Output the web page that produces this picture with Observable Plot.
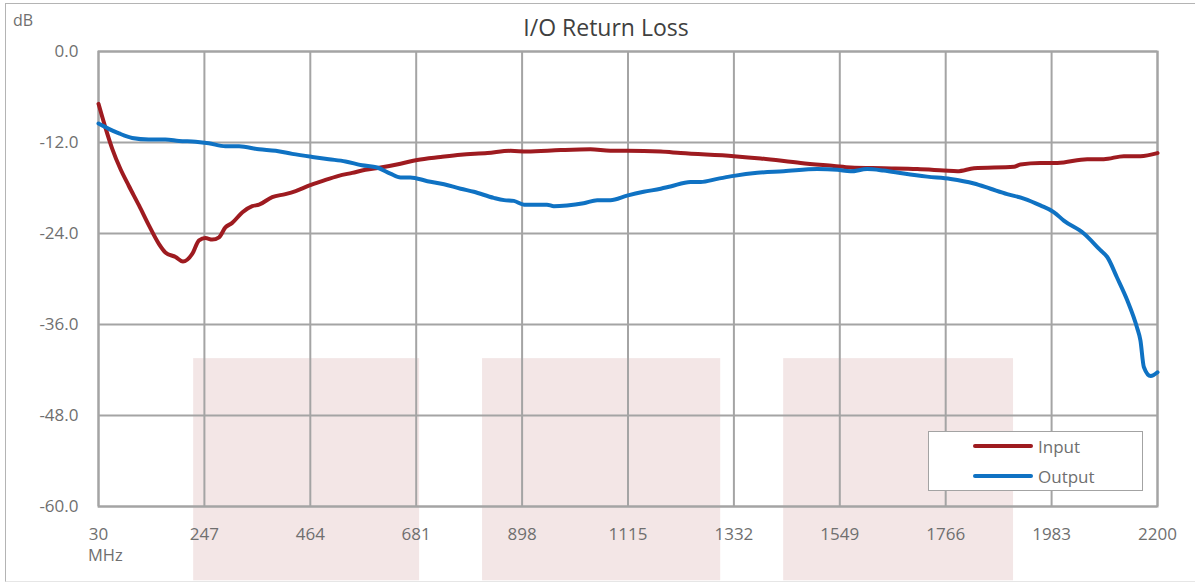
<!DOCTYPE html>
<html>
<head>
<meta charset="utf-8">
<script src="https://cdn.jsdelivr.net/npm/d3@7"></script>
<script src="https://cdn.jsdelivr.net/npm/@observablehq/plot@0.6"></script>
<style>
  html, body { margin: 0; padding: 0; background: #fff; }
  #wrap { position: relative; width: 1195px; height: 584px; overflow: hidden; font-family: "Open Sans", sans-serif; }
  #border { position: absolute; left: 5px; top: 3px; width: 1200px; height: 579px; border-left: 1px solid #b4b4b4; border-top: 1px solid #b4b4b4; border-bottom: 1px solid #e6e6e6; box-sizing: border-box; }
  #title { position: absolute; left: 0; width: 1212px; top: 11px; text-align: center; font-size: 23px; color: #404040; }
  #unitY { position: absolute; left: 13px; top: 10px; font-size: 16px; line-height: 20px; color: #6f6f6f; }
  #unitX { position: absolute; left: 88px; top: 549px; font-size: 16.5px; line-height: 12px; color: #6f6f6f; }
  #legend { position: absolute; left: 928px; top: 431px; width: 215px; height: 60px; box-sizing: border-box; border: 1.5px solid #a3a3a3; background: #fff; font-size: 17px; color: #6f6f6f; }
  .li { position: absolute; left: 44px; height: 20px; display: flex; align-items: center; }
  .sw { width: 60px; height: 4px; border-radius: 2px; margin-right: 5px; }
  svg { position: absolute; left: 0; top: 0; }
</style>
</head>
<body>
<div id="wrap">
  <div id="border"></div>
  <div id="chart"></div>
  <div id="title">I/O Return Loss</div>
  <div id="unitY">dB</div>
  <div id="unitX">MHz</div>
  <div id="legend"></div>
</div>
<script>
// ---- Data ----
const xTicks = [30, 247, 464, 681, 898, 1115, 1332, 1549, 1766, 1983, 2200];
const yTicks = [0, -12, -24, -36, -48, -60];
const seriesNames = ["Input", "Output"];
const seriesColors = ["#9e1b20", "#0f72c3"];

const inputMHz = [30,44,58,75,92,113,133,154,167,188,203,222,236,249,263,277,290,304,325,345,359,386,413,434,461,488,522,550,577,608,649,683,731,772,827,874,908,977,1038,1079,1113,1182,1223,1332,1387,1469,1537,1571,1639,1708,1762,1790,1824,1906,1919,1960,1995,2056,2090,2131,2165,2200];
const inputDB = [-6.9,-10.0,-12.8,-15.5,-17.7,-20.3,-22.9,-25.4,-26.5,-27.1,-27.7,-26.7,-24.9,-24.6,-24.8,-24.5,-23.2,-22.6,-21.2,-20.4,-20.2,-19.2,-18.8,-18.4,-17.7,-17.1,-16.4,-16.0,-15.6,-15.3,-14.8,-14.3,-13.9,-13.6,-13.4,-13.1,-13.2,-13.0,-12.9,-13.1,-13.1,-13.2,-13.4,-13.8,-14.1,-14.7,-15.1,-15.3,-15.4,-15.5,-15.7,-15.8,-15.4,-15.2,-14.9,-14.7,-14.7,-14.2,-14.2,-13.8,-13.8,-13.4];

const outputMHz = [30,51,72,99,133,167,195,229,256,290,318,359,393,427,468,502,536,570,601,628,649,669,704,738,772,799,840,861,881,902,929,949,963,990,1024,1052,1079,1113,1147,1182,1202,1243,1264,1298,1332,1380,1434,1503,1544,1571,1605,1639,1680,1728,1776,1824,1858,1892,1926,1960,1988,2008,2049,2083,2097,2117,2138,2158,2165,2172,2186,2200];
const outputDB = [-9.5,-10.2,-10.8,-11.4,-11.6,-11.6,-11.8,-11.9,-12.1,-12.5,-12.5,-12.9,-13.1,-13.5,-13.9,-14.2,-14.5,-15.0,-15.3,-16.1,-16.6,-16.6,-17.1,-17.5,-18.1,-18.5,-19.3,-19.6,-19.7,-20.2,-20.2,-20.2,-20.4,-20.3,-20.0,-19.6,-19.6,-19.0,-18.5,-18.1,-17.8,-17.2,-17.2,-16.8,-16.4,-16.0,-15.8,-15.5,-15.6,-15.8,-15.5,-15.7,-16.1,-16.5,-16.8,-17.4,-18.1,-18.8,-19.4,-20.3,-21.2,-22.3,-24.0,-26.2,-27.1,-29.8,-32.8,-36.4,-38.1,-41.6,-42.8,-42.3];

// background shaded bands (watermark blocks)
const bandX1 = [225, 817, 1434];
const bandX2 = [688, 1305, 1905];
const bandY1 = [-40.5, -40.5, -40.5];
const bandY2 = [-69.8, -69.8, -69.8];

// ---- Build tables ----
const rows = [
  ...inputMHz.map((x, i) => ({series: "Input", x, y: inputDB[i]})),
  ...outputMHz.map((x, i) => ({series: "Output", x, y: outputDB[i]}))
];
const bands = bandX1.map((x1, i) => ({x1, x2: bandX2[i], y1: bandY1[i], y2: bandY2[i]}));

const gridColor = "#a4a4a4";
const textColor = "#6f6f6f";

const chart = Plot.plot({
  width: 1195,
  height: 584,
  marginLeft: 98,
  marginRight: 38,
  marginTop: 51,
  marginBottom: 78,
  style: {fontFamily: "Open Sans, sans-serif", fontSize: "17px", color: textColor, background: "transparent"},
  x: {domain: [30, 2200]},
  y: {domain: [-60, 0]},
  color: {domain: seriesNames, range: seriesColors},
  marks: [
    Plot.rect(bands, {x1: "x1", x2: "x2", y1: "y1", y2: "y2", fill: "#f3e6e6"}),
    Plot.gridX(xTicks, {stroke: gridColor, strokeOpacity: 1, strokeWidth: 2}),
    Plot.gridY(yTicks, {stroke: gridColor, strokeOpacity: 1, strokeWidth: 2}),
    Plot.frame({stroke: gridColor, strokeWidth: 2}),
    Plot.line(rows, {x: "x", y: "y", z: "series", stroke: "series", strokeWidth: 4, curve: "monotone-x", strokeLinejoin: "round", strokeLinecap: "round"}),
    Plot.axisX(xTicks, {tickSize: 0, tickPadding: 21, label: null, tickFormat: d => String(d), fill: textColor, fontSize: 17}),
    Plot.axisY(yTicks, {tickSize: 0, tickPadding: 20, label: null, tickFormat: d => d.toFixed(1), fill: textColor, fontSize: 17})
  ]
});
document.getElementById("chart").appendChild(chart);

// legend
const leg = document.getElementById("legend");
seriesNames.forEach((name, i) => {
  const item = document.createElement("div");
  item.className = "li";
  item.style.top = (4 + i * 30) + "px";
  const sw = document.createElement("div");
  sw.className = "sw";
  sw.style.background = seriesColors[i];
  const lab = document.createElement("span");
  lab.textContent = name;
  item.appendChild(sw);
  item.appendChild(lab);
  leg.appendChild(item);
});
</script>
</body>
</html>
